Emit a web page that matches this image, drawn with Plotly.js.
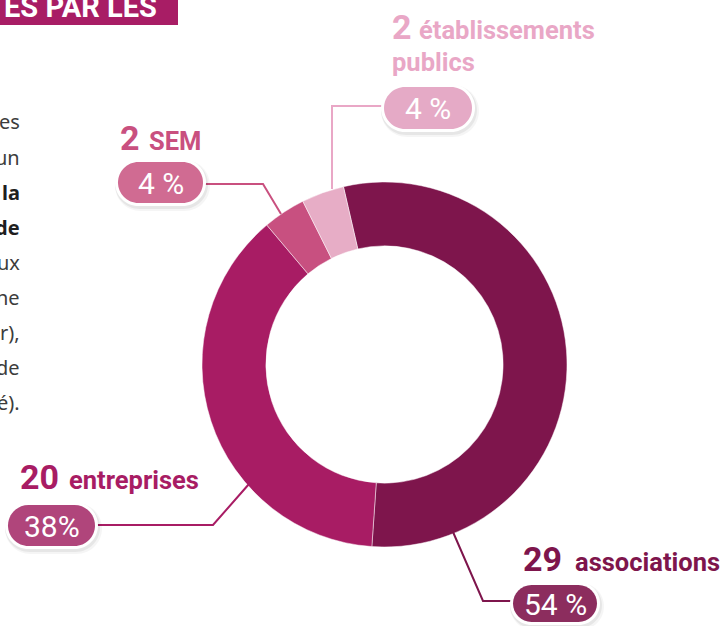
<!DOCTYPE html>
<html>
<head>
<meta charset="utf-8">
<script src="https://cdn.plot.ly/plotly-3.0.1.min.js"></script>
<style>html,body{margin:0;padding:0;background:#fff;}#chart{width:720px;height:626px;}</style>
</head>
<body>
<div id="chart"></div>
<script>
// ---- data ----
const categories = ['associations', 'entreprises', 'SEM', 'établissements publics'];
const counts = [29, 20, 2, 2];
const percentLabels = ['54 %', '38%', '4 %', '4 %'];
const sliceColors = ['#7e154c', '#a81c64', '#c85080', '#e7adc6'];
const pillColors = ['#8c2d5e', '#b0457b', '#d06b92', '#e5aac6'];
const labelColors = ['#7e154c', '#a81c64', '#c9507f', '#e9a7c6'];
const paragraphFragments = ['es', 'un', 'la', 'de', 'ux', 'ne', 'r),', 'de', 'é).'];
const paragraphBold = [false, false, true, true, false, false, false, false, false];
const bannerText = 'ES PAR LES';

// ---- layout helpers (pixel -> paper) ----
const W = 720, H = 626;
const px = x => x / W;
const py = y => 1 - y / H;

function pillPath(x0, y0, x1, y1) {
  const r = (y1 - y0) / 2, k = 0.5523 * r;
  const P = (x, y) => px(x) + ',' + py(y);
  let d = 'M' + P(x0 + r, y0) + ' L' + P(x1 - r, y0);
  d += ' C' + P(x1 - r + k, y0) + ' ' + P(x1, y0 + r - k) + ' ' + P(x1, y0 + r);
  d += ' C' + P(x1, y0 + r + k) + ' ' + P(x1 - r + k, y1) + ' ' + P(x1 - r, y1);
  d += ' L' + P(x0 + r, y1);
  d += ' C' + P(x0 + r - k, y1) + ' ' + P(x0, y0 + r + k) + ' ' + P(x0, y0 + r);
  d += ' C' + P(x0, y0 + r - k) + ' ' + P(x0 + r - k, y0) + ' ' + P(x0 + r, y0) + ' Z';
  return d;
}
function polyPath(pts) {
  return pts.map((p, i) => (i ? 'L' : 'M') + px(p[0]) + ',' + py(p[1])).join(' ');
}

// pill boxes (pixel rects) for each category, in data order
const pillBoxes = [
  [513, 585, 597, 622],
  [8, 505, 95, 546],
  [118, 162, 203, 203],
  [384, 87, 472, 129]
];
const connectors = [
  [[453, 532], [483, 601], [513, 601]],
  [[97, 525], [213, 525], [249, 484]],
  [[203, 184], [263, 184], [281, 214]],
  [[384, 106], [332, 106], [332, 189]]
];
// label positions: [numberX, numberY, wordX, wordY]
const labelPos = [
  [521, 559, 573, 562],
  [18, 477, 67, 480],
  [118, 138, 147, 141],
  [390, 27, 417, 30]
];

const shapes = [];
// banner
shapes.push({type: 'rect', xref: 'paper', yref: 'paper', x0: px(0), x1: px(178), y0: py(25), y1: py(0),
  fillcolor: '#a81d65', line: {width: 0}});

categories.forEach((c, i) => {
  const b = pillBoxes[i];
  shapes.push({type: 'path', xref: 'paper', yref: 'paper', path: polyPath(connectors[i]),
    line: {color: labelColors[i], width: 2}, fillcolor: 'rgba(0,0,0,0)'});
  shapes.push({type: 'path', xref: 'paper', yref: 'paper', path: pillPath(b[0] - 5 + 2, b[1] - 5 + 3, b[2] + 5 + 2, b[3] + 5 + 3),
    fillcolor: 'rgba(0,0,0,0.04)', line: {width: 0}});
  shapes.push({type: 'path', xref: 'paper', yref: 'paper', path: pillPath(b[0] - 4 + 1, b[1] - 4 + 2, b[2] + 4 + 1, b[3] + 4 + 2),
    fillcolor: 'rgba(0,0,0,0.06)', line: {width: 0}});
  shapes.push({type: 'path', xref: 'paper', yref: 'paper', path: pillPath(b[0] - 3, b[1] - 3, b[2] + 3, b[3] + 3),
    fillcolor: '#ffffff', line: {width: 0}});
  shapes.push({type: 'path', xref: 'paper', yref: 'paper', path: pillPath(b[0], b[1], b[2], b[3]),
    fillcolor: pillColors[i], line: {width: 0}});
});

const annotations = [];
annotations.push({xref: 'paper', yref: 'paper', x: px(159), y: py(7), xanchor: 'right', yanchor: 'middle',
  text: '<b>' + bannerText + '</b>', showarrow: false, font: {family: 'Roboto', size: 29, color: '#ffffff'}});

paragraphFragments.forEach((t, i) => {
  annotations.push({xref: 'paper', yref: 'paper', x: px(22), y: py(122 + i * 35.1), xanchor: 'right', yanchor: 'middle',
    text: paragraphBold[i] ? '<b>' + t + '</b>' : t, showarrow: false,
    font: {family: 'Noto Sans', size: 20, color: paragraphBold[i] ? '#1e1e1e' : '#3c3c3c'}});
});

categories.forEach((c, i) => {
  const b = pillBoxes[i];
  annotations.push({xref: 'paper', yref: 'paper', x: px((b[0] + b[2]) / 2), y: py((b[1] + b[3]) / 2 + 1),
    xanchor: 'center', yanchor: 'middle', text: percentLabels[i], showarrow: false,
    font: {family: 'Roboto', size: 30, weight: 400, color: '#ffffff'}});
  const L = labelPos[i];
  annotations.push({xref: 'paper', yref: 'paper', x: px(L[0]), y: py(L[1]), xanchor: 'left', yanchor: 'middle',
    text: '<b>' + counts[i] + '</b>', showarrow: false, font: {family: 'Roboto', size: 34, color: labelColors[i]}});
  const words = c.split(' ');
  annotations.push({xref: 'paper', yref: 'paper', x: px(L[2]), y: py(L[3]), xanchor: 'left', yanchor: 'middle',
    text: '<b>' + words[0] + '</b>', showarrow: false, font: {family: 'Roboto', size: 25.5, color: labelColors[i]}});
  if (words.length > 1) {
    annotations.push({xref: 'paper', yref: 'paper', x: px(L[0]), y: py(L[3] + 32), xanchor: 'left', yanchor: 'middle',
      text: '<b>' + words.slice(1).join(' ') + '</b>', showarrow: false, font: {family: 'Roboto', size: 25.5, color: labelColors[i]}});
  }
});

const trace = {
  type: 'pie',
  labels: categories,
  values: counts,
  hole: 0.65,
  sort: false,
  direction: 'clockwise',
  rotation: -13,
  textinfo: 'none',
  hoverinfo: 'skip',
  marker: {colors: sliceColors, line: {color: 'rgba(255,255,255,0.8)', width: 0.6}},
  domain: {x: [px(202), px(567)], y: [py(547), py(182)]},
  showlegend: false
};

const layout = {
  width: W, height: H,
  margin: {l: 0, r: 0, t: 0, b: 0},
  paper_bgcolor: '#ffffff',
  plot_bgcolor: '#ffffff',
  showlegend: false,
  shapes: shapes,
  annotations: annotations
};

Plotly.newPlot('chart', [trace], layout, {displayModeBar: false, staticPlot: true});
</script>
</body>
</html>
